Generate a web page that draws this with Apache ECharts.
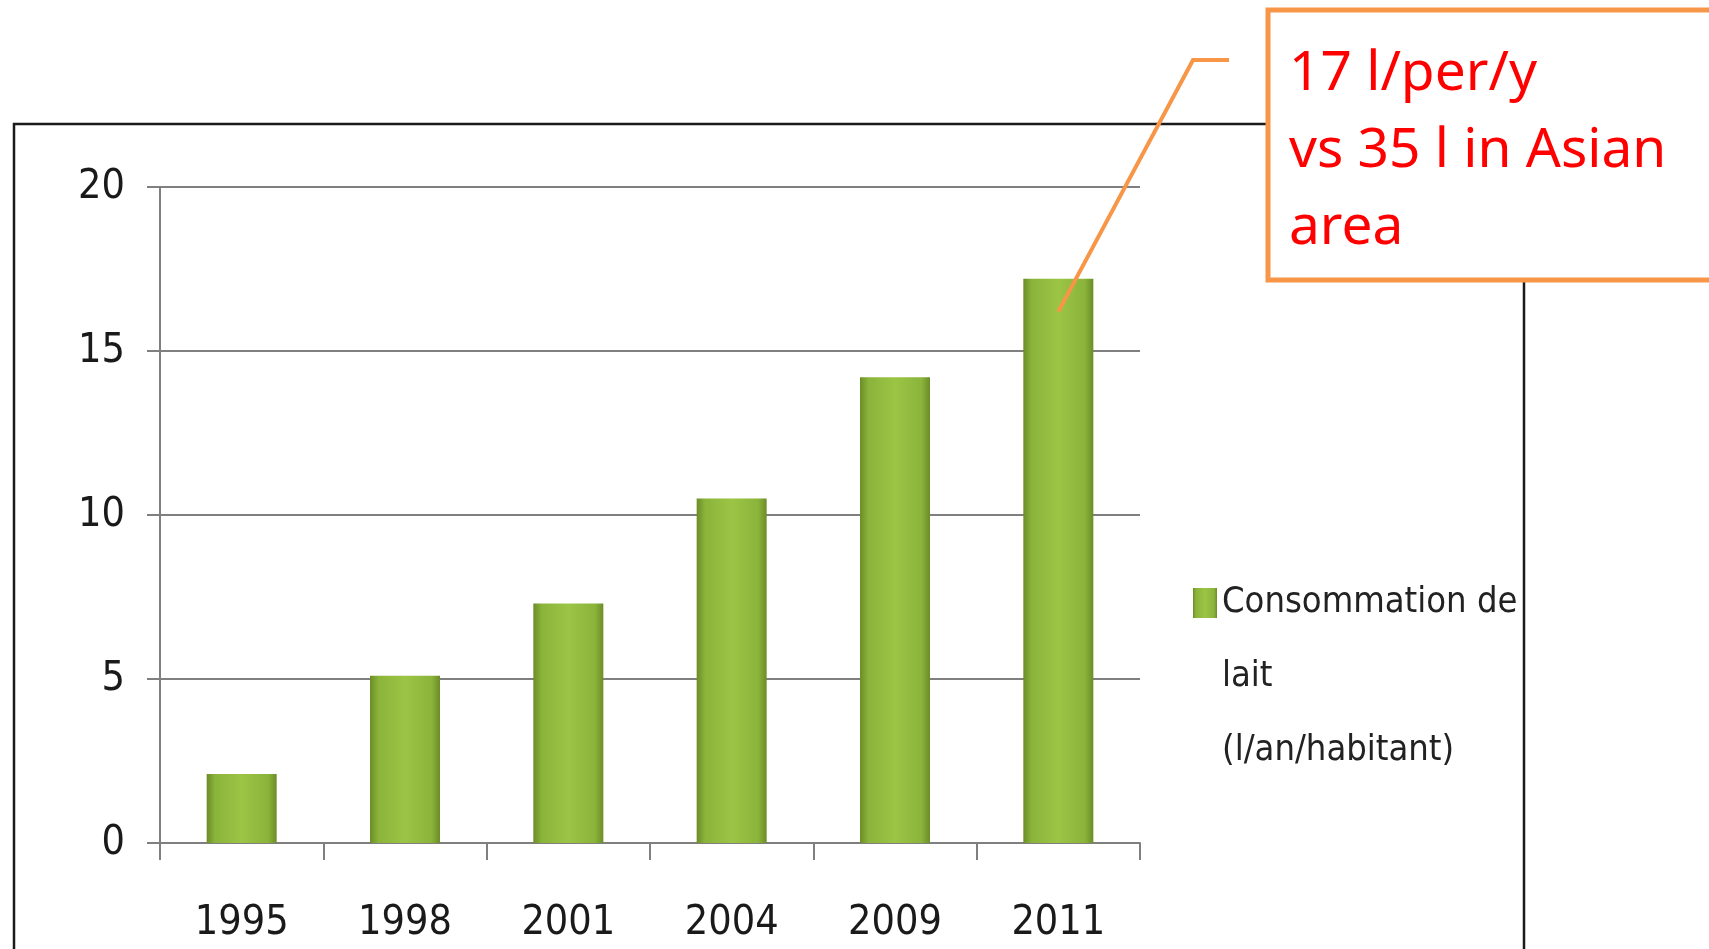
<!DOCTYPE html>
<html>
<head>
<meta charset="utf-8">
<script src="https://cdn.jsdelivr.net/npm/echarts@6/dist/echarts.min.js"></script>
<style>
html,body{margin:0;padding:0;background:#fff;}
#chart{width:1709px;height:949px;}
</style>
</head>
<body>
<div id="chart"></div>
<script>
// ---- data ----
const years = ['1995', '1998', '2001', '2004', '2009', '2011'];
const consumption = [2.1, 5.1, 7.3, 10.5, 14.2, 17.2];
const yTicks = [0, 5, 10, 15, 20];
const seriesName = 'Consommation de lait (l/an/habitant)';
const legendLines = ['Consommation de', 'lait', '(l/an/habitant)'];
const calloutLines = ['17 l/per/y', 'vs 35 l in Asian', 'area'];
const calloutTarget = ['2011', 16.2];

const narrow = "'Liberation Sans Narrow', 'DejaVu Sans Condensed', 'Liberation Sans', sans-serif";
const orange = '#F79646';

const chart = echarts.init(document.getElementById('chart'), null, {renderer: 'canvas'});

const barGradient = new echarts.graphic.LinearGradient(0, 0, 1, 0, [
  {offset: 0, color: '#6c8c28'},
  {offset: 0.12, color: '#8ab43a'},
  {offset: 0.5, color: '#9cc546'},
  {offset: 0.88, color: '#8ab43a'},
  {offset: 1, color: '#6c8c28'}
]);

const option = {
  backgroundColor: '#ffffff',
  animation: false,
  grid: {left: 160, right: 569, top: 187, bottom: 106, containLabel: false},
  legend: {
    show: true,
    orient: 'vertical',
    left: 1188,
    top: 413,
    itemWidth: 24,
    itemHeight: 30,
    itemGap: 8,
    icon: 'rect',
    data: [seriesName],
    // two leading blank lines keep the first text line level with the icon
    formatter: function () { return '\n\n' + legendLines.join('\n'); },
    textStyle: {
      fontFamily: narrow,
      fontSize: 36,
      color: '#222222',
      lineHeight: 74
    }
  },
  xAxis: {
    type: 'category',
    data: years,
    boundaryGap: true,
    axisLine: {show: true, lineStyle: {color: '#7f7f7f', width: 2}},
    axisTick: {show: true, alignWithLabel: false, length: 17, lineStyle: {color: '#7f7f7f', width: 2}},
    axisLabel: {fontFamily: narrow, fontSize: 41, color: '#1a1a1a', margin: 60}
  },
  yAxis: {
    type: 'value',
    min: yTicks[0],
    max: yTicks[yTicks.length - 1],
    interval: yTicks[1] - yTicks[0],
    axisLine: {show: true, lineStyle: {color: '#7f7f7f', width: 2}},
    axisTick: {show: true, length: 13, lineStyle: {color: '#7f7f7f', width: 2}},
    splitLine: {show: true, lineStyle: {color: '#7f7f7f', width: 2}},
    axisLabel: {fontFamily: narrow, fontSize: 41, color: '#1a1a1a', margin: 35}
  },
  series: [{
    name: seriesName,
    type: 'bar',
    data: consumption,
    barWidth: 70,
    itemStyle: {
      color: barGradient,
      shadowColor: 'rgba(0,0,0,0.28)',
      shadowBlur: 6,
      shadowOffsetY: 3
    }
  }]
};

chart.setOption(option);

const target = chart.convertToPixel({seriesIndex: 0}, calloutTarget);

chart.setOption({
  graphic: [
    {
      type: 'rect', z: -1, silent: true,
      shape: {x: 14, y: 124, width: 1510, height: 900},
      style: {fill: 'none', stroke: '#1a1a1a', lineWidth: 2.5}
    },
    {
      type: 'rect', z: 100,
      shape: {x: 1268, y: 10, width: 520, height: 270},
      style: {fill: '#ffffff', stroke: orange, lineWidth: 5}
    },
    {
      type: 'text', z: 101,
      x: 1289, y: 151,
      style: {
        text: calloutLines.join('\n'),
        fontFamily: "'Noto Sans', 'Open Sans', sans-serif",
        fontSize: 55,
        lineHeight: 77,
        fill: '#ff0000',
        align: 'left',
        verticalAlign: 'middle'
      }
    },
    {
      type: 'polyline', z: 100,
      shape: {points: [[1229, 60], [1193, 60], target]},
      style: {stroke: orange, lineWidth: 4, fill: 'none'}
    }
  ]
});
</script>
</body>
</html>
